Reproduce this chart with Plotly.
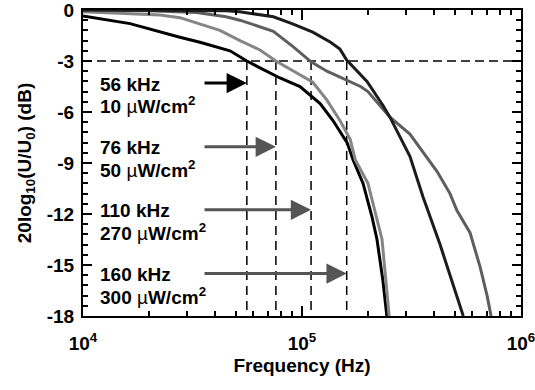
import math
import plotly.graph_objects as go

# ---- data ----
# 10 uW/cm2 curve (cut-off 56 kHz)
freq_a = [1.0e4, 1.64e4, 2.77e4, 3.42e4, 4.69e4, 5.6e4, 6.43e4, 7.93e4, 9.79e4,
          1.21e5, 1.385e5, 1.606e5, 1.71e5, 1.9e5, 2.09e5, 2.2e5, 2.34e5, 2.44e5]
db_a = [-0.35, -0.8, -1.6, -1.9, -2.4, -3.0, -3.4, -4.0, -4.5,
        -5.5, -6.5, -7.8, -8.8, -10.2, -12.2, -13.5, -15.9, -18.0]
# 50 uW/cm2 curve (cut-off 76 kHz)
freq_b = [1.0e4, 2.25e4, 2.77e4, 4.22e4, 5.21e4, 6.43e4, 7.6e4, 9.1e4, 1.12e5,
          1.3e5, 1.49e5, 1.66e5, 1.75e5, 2.0e5, 2.32e5, 2.5e5]
db_b = [-0.1, -0.3, -0.45, -1.2, -1.8, -2.35, -3.0, -3.6, -4.25,
        -5.3, -6.5, -7.6, -8.8, -10.2, -13.5, -18.0]
# 270 uW/cm2 curve (cut-off 110 kHz)
freq_c = [1.0e4, 2.0e4, 3.3e4, 4.5e4, 5.2e4, 6.4e4, 7.4e4, 9.1e4, 1.1e5, 1.3e5,
          1.6e5, 1.85e5, 2.0e5, 2.52e5, 3.11e5, 3.6e5, 4.14e5, 4.74e5, 5.1e5,
          5.85e5, 6.5e5, 7.0e5, 7.3e5]
db_c = [0.0, -0.05, -0.15, -0.4, -0.6, -1.0, -1.25, -2.15, -3.05, -3.6,
        -4.15, -4.5, -4.8, -6.3, -7.3, -8.4, -9.5, -10.8, -11.8,
        -13.1, -15.1, -16.8, -18.0]
# 300 uW/cm2 curve (cut-off 160 kHz)
freq_d = [1.0e4, 3.0e4, 4.5e4, 5.2e4, 7.4e4, 9.0e4, 1.12e5, 1.35e5, 1.49e5, 1.6e5,
          1.98e5, 2.34e5, 2.52e5, 3.11e5, 3.57e5, 4.27e5, 5.38e5, 5.45e5]
db_d = [0.0, -0.02, -0.05, -0.1, -0.4, -0.8, -1.3, -1.9, -2.3, -2.95,
        -4.2, -5.6, -6.3, -8.6, -11.0, -13.8, -17.8, -18.0]

cutoff_khz = [56, 76, 110, 160]
intensity_uw = [10, 50, 270, 300]
y_ticks = [0, -3, -6, -9, -12, -15, -18]
y_tick_text = ["0", "-3", "-6", "-9", "-12", "-15", "-18"]
x_ticks = [1e4, 1e5, 1e6]
x_tick_text = ["10<sup>4</sup>", "10<sup>5</sup>", "10<sup>6</sup>"]

# ---- styling ----
FONT = "Liberation Sans"
FS = 19
curve_colors = ["#000000", "#858585", "#5e5e5e", "#1c1c1c"]
arrow_colors = ["#000000", "#555555", "#555555", "#555555"]
arrow_db = [-4.3, -8.05, -11.75, -15.5]
arrow_tail_log = 4.548
label_left_log = 4.07

bold = dict(family=FONT, size=FS, color="black", weight="bold")

fig = go.Figure()

# dashed guide lines
fig.add_trace(go.Scatter(x=[x_ticks[0], x_ticks[-1]], y=[-3, -3], mode="lines",
                         line=dict(color="black", width=1.5, dash="9px,5px"),
                         showlegend=False, hoverinfo="skip"))
for k in cutoff_khz:
    fig.add_trace(go.Scatter(x=[k * 1e3, k * 1e3], y=[-3, y_ticks[-1]], mode="lines",
                             line=dict(color="black", width=1.5, dash="9px,6px"),
                             showlegend=False, hoverinfo="skip"))

for f, d, c in zip([freq_a, freq_b, freq_c, freq_d], [db_a, db_b, db_c, db_d], curve_colors):
    fig.add_trace(go.Scatter(x=f, y=d, mode="lines", line=dict(color=c, width=3),
                             showlegend=False, hoverinfo="skip"))

for k, p, yy, ac in zip(cutoff_khz, intensity_uw, arrow_db, arrow_colors):
    fig.add_annotation(x=math.log10(k * 1e3), y=yy, xref="x", yref="y",
                       ax=arrow_tail_log, ay=yy, axref="x", ayref="y",
                       text="", showarrow=True, arrowhead=2, arrowsize=1.35,
                       arrowwidth=3, arrowcolor=ac)
    fig.add_annotation(x=label_left_log, y=yy, xref="x", yref="y", xanchor="left",
                       yanchor="middle", yshift=-1, showarrow=False,
                       text=f"{k} kHz", font=bold)
    fig.add_annotation(x=label_left_log, y=yy, xref="x", yref="y", xanchor="left",
                       yanchor="middle", yshift=-22, showarrow=False,
                       text=f"{p} <span style='font-weight:normal'>µ</span>W/cm<sup>2</sup>",
                       font=bold)

fig.update_layout(
    width=535, height=390,
    margin=dict(l=83, r=14, t=10, b=74, autoexpand=False),
    paper_bgcolor="white", plot_bgcolor="white",
    font=bold,
    xaxis=dict(type="log", range=[4, 6], showline=True, linecolor="black", linewidth=2,
               mirror="ticks", ticks="inside", ticklen=10, tickwidth=1.5, tickcolor="black",
               tickvals=x_ticks, ticktext=x_tick_text, showgrid=False, zeroline=False,
               automargin=False, ticklabelstandoff=9, ticklabeloverflow="allow",
               tickfont=bold,
               minor=dict(ticks="inside", ticklen=5, tickwidth=1.5, tickcolor="black",
                          dtick="D1", showgrid=False),
               title=dict(text="Frequency (Hz)", standoff=6, font=bold)),
    yaxis=dict(range=[-18, 0], showline=True, linecolor="black", linewidth=2,
               mirror="ticks", ticks="inside", ticklen=9, tickwidth=1.5, tickcolor="black",
               tickvals=y_ticks, ticktext=y_tick_text, showgrid=False, zeroline=False,
               automargin=False, ticklabelstandoff=3, ticklabeloverflow="allow",
               tickfont=bold,
               minor=dict(ticks="inside", ticklen=5, tickwidth=1.5, tickcolor="black",
                          dtick=0.6, showgrid=False),
               title=dict(text="20log<sub>10</sub>(U/U<sub>0</sub>) (dB)", standoff=10,
                          font=bold)),
)

fig.write_html("out.html")
